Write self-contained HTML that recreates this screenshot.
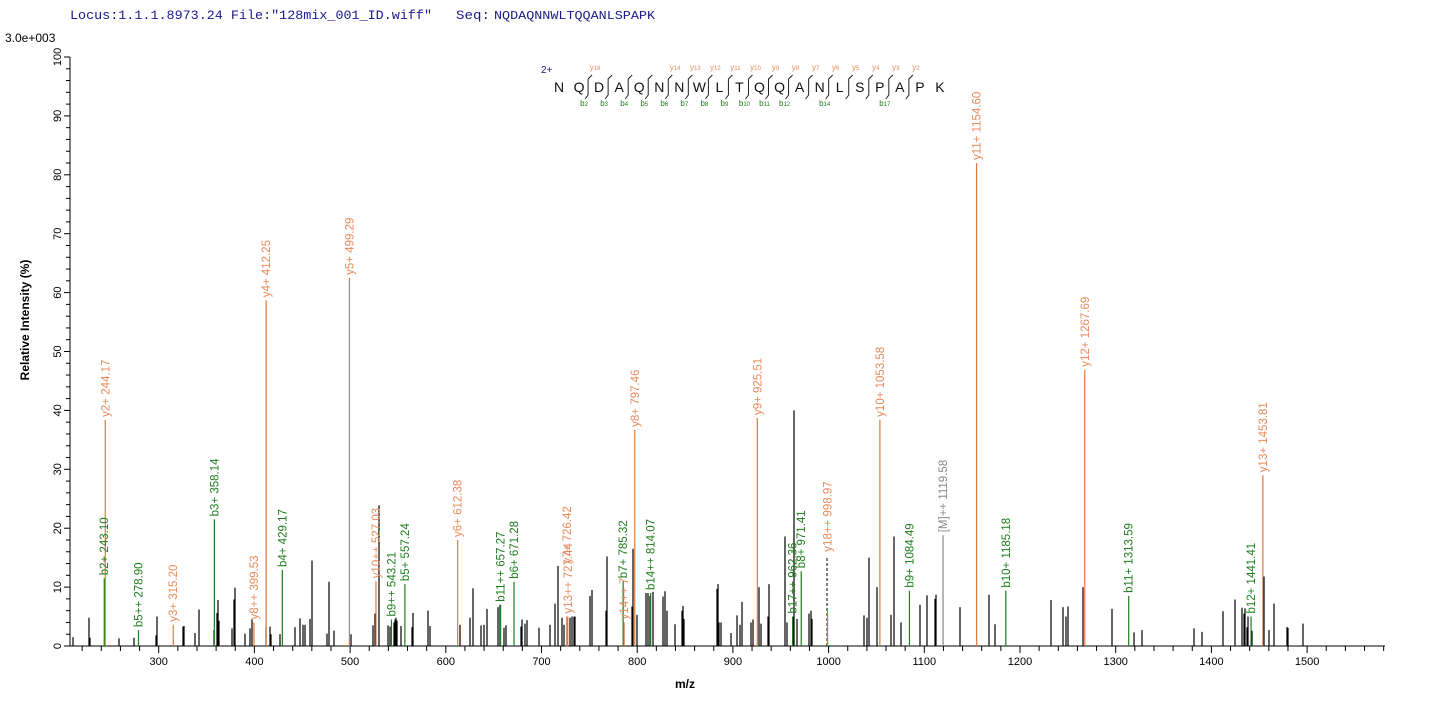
<!DOCTYPE html>
<html><head><meta charset="utf-8"><style>
html,body{margin:0;padding:0;background:#fff;}
svg{display:block;font-family:"Liberation Sans",Arial,sans-serif;}
</style></head><body>
<svg id="s" width="1436" height="705" xmlns="http://www.w3.org/2000/svg">
<text x="70" y="19" font-family="Liberation Mono,monospace" font-size="13" fill="#1a1a8c" textLength="362" lengthAdjust="spacingAndGlyphs">Locus:1.1.1.8973.24 File:"128mix_001_ID.wiff"</text>
<text x="456" y="19" font-family="Liberation Mono,monospace" font-size="13" fill="#1a1a8c" textLength="34" lengthAdjust="spacingAndGlyphs">Seq:</text>
<text x="494" y="19" font-family="Liberation Mono,monospace" font-size="12" fill="#1a1a8c" textLength="161" lengthAdjust="spacingAndGlyphs">NQDAQNNWLTQQANLSPAPK</text>
<text x="5" y="42" font-size="12" fill="#000">3.0e+003</text>
<text transform="translate(29,320) rotate(-90)" font-size="12" font-weight="bold" text-anchor="middle" fill="#000">Relative   Intensity (%)</text>
<text x="685" y="688" font-size="12" font-weight="bold" text-anchor="middle" fill="#000">m/z</text>
<g id="g"></g>
</svg>
<script>
var g=document.getElementById('g'),h='';
function X(mz){return 828.6+(mz-1000)*0.957;}
function Y(p){return 646-p*5.89;}
h+='<line x1="70" y1="57" x2="70" y2="646" stroke="#000"/>';
h+='<line x1="70" y1="646" x2="1385" y2="646" stroke="#000"/>';
for(var v=0;v<=100;v+=2){var y=Y(v);var maj=v%10==0;h+='<line x1="'+(maj?64:66)+'" y1="'+y+'" x2="70" y2="'+y+'" stroke="#000"/>';
if(maj)h+='<text transform="translate(61,'+y+') rotate(-90)" font-size="11" text-anchor="middle" fill="#000">'+v+'</text>';}
for(var m=220;m<=1580;m+=20){var x=X(m);var maj=m%100==0;h+='<line x1="'+x+'" y1="646" x2="'+x+'" y2="'+(maj?653:651)+'" stroke="#000"/>';
if(maj)h+='<text x="'+x+'" y="665" font-size="11" text-anchor="middle" fill="#000">'+m+'</text>';}
var bp=[[73,1.5],[89,4.8],[90,1.4],[119,1.3],[134,1.4],[156,1.8],[157,5],[183,3.3],[184,3.4],[195,2.2],[199,6.2],[214,2.7],[217,5.6],[218,7.8],[219,4.3],[232,3],[234,7.9],[235,9.9],[245,2.1],[250,3],[252,4.5],[266,3.3],[270,3.3],[271,2],[280,2],[295,3.2],[300,4.7],[303,3.6],[305,3.6],[310,4.6],[312,14.5],[327,2.1],[329,10.9],[334,2.6],[351,2],[373,3.5],[375,5.5],[379,23.9],[388,3.5],[390,3.3],[394,4],[395,4.5],[396,4.8],[397,4.3],[401,3.4],[412,3.2],[413,5.6],[428,6],[430,3.4],[460,3.6],[470,4.8],[473,9.8],[481,3.5],[484,3.6],[487,6.3],[498,6.6],[500,7],[504,3.1],[506,3.5],[521,3.3],[522,4.5],[525,3.8],[527,4.4],[539,3.1],[550,3.6],[555,7.2],[558,13.6],
[562,4.8],[564,3.6],[570,4.8],[572,5],[574,5],[575,5],[590,8.5],[592,9.5],[606,6],[607,15.2],[632,6.7],[633,16.5],[637,5.3],[646,9],[648,9],[650,8.5],[653,9.2],[663,8.4],[665,9.3],[667,6],[675,3.7],[682,6],[683,6.8],[684,4.6],[717,9.7],[718,10.5],[719,4],[721,4],[731,2.2],[737,5.2],[740,3.6],[742,7.5],[751,4],[753,4.5],[759,10],[761,3.8],[768,5],[769,10.5],[785,18.6],[787,4],[793,5],[794,40],[797,4.6],[809,5.5],[811,6],[812,4.6],[864,5.2],[867,4.8],[869,15],[877,10],[891,5.3],[894,18.6],[901,4],[920,7],[927,8.6],[935,8],[936,8.7],[960,6.6],[989,8.7],[995,3.7],[1051,7.8],[1063,6.6],[1066,5],[1068,6.7],[1083,10],[1112,6.3],[1134,2.3],[1142,2.7],[1194,3],[1202,2.4],[1223,5.9],[1235,7.9],[1242,6.5],[1244,5.5],[1245,6.4],[1247,3.2],[1248,5],[1252,2.6],[1264,11.8],[1269,2.7],[1274,7.2],[1287,3.2],[1288,3.1],[1303,3.8]];
bp.forEach(function(p){h+='<line x1="'+p[0]+'" y1="646" x2="'+p[0]+'" y2="'+Y(p[1])+'" stroke="#000" stroke-width="1.2"/>';});
h+='<line x1="827" y1="646" x2="827" y2="'+Y(15.2)+'" stroke="#000" stroke-dasharray="3,2"/>';
var O='#e0783c',OT='#e88a5c',G='#1e7d1e',GR='#888';
var lp=[[244.17,38.4,'y2+ 244.17',O],[243.10,11.5,'b2+ 243.10',G],[278.90,2.7,'b5++ 278.90',G],[315.20,3.6,'y3+ 315.20',O],[358.14,21.5,'b3+ 358.14',G],[399.53,4,'y8++ 399.53',O],[412.25,58.7,'y4+ 412.25',O],[429.17,12.9,'b4+ 429.17',G],[499.29,62.5,'y5+ 499.29',O],[527.03,11,'y10++ 527.03',O],[543.21,4.5,'b9++ 543.21',G],[557.24,10.5,'b5+ 557.24',G],[612.38,18,'y6+ 612.38',O],[657.27,7,'b11++ 657.27',G],[671.28,10.9,'b6+ 671.28',G],[727.44,5,'y13++ 727.44',O],[726.42,5,'y7+ 726.42',O,13.5],[785.32,11,'b7+ 785.32',G],[786.3,4,'y14++ 7',O],[797.46,36.7,'y8+ 797.46',O],[814.07,9,'b14++ 814.07',G],[925.51,38.7,'y9+ 925.51',O],[962.36,5,'b17++ 962.36',G],[971.41,12.7,'b8+ 971.41',G],[998.97,6,'y18++ 998.97',O,15.5],[1053.58,38.4,'y10+ 1053.58',O],[1084.49,9.4,'b9+ 1084.49',G],[1119.58,18.8,'[M]++ 1119.58',GR],[1154.60,82,'y11+ 1154.60',O],[1185.18,9.4,'b10+ 1185.18',G],[1267.69,46.9,'y12+ 1267.69',O],[1313.59,8.5,'b11+ 1313.59',G],[1441.41,5,'b12+ 1441.41',G],[1453.81,29,'y13+ 1453.81',O]];
lp.forEach(function(p){var x=X(p[0]);var c=p[3];h+='<line x1="'+x+'" y1="646" x2="'+x+'" y2="'+Y(p[1])+'" stroke="'+c+'" stroke-width="1.2"/>';
var ly=Y(p[4]||p[1])-3;var tc=c==O?OT:c;
h+='<text transform="translate('+(x+4)+','+ly+') rotate(-90)" font-size="11.5" fill="'+tc+'">'+p[2]+'</text>';});
var seq='NQDAQNNWLTQQANLSPAPK';var x0=559,dx=20.05;
h+='<text x="541" y="73" font-size="10" fill="#1a1a8c">2+</text>';
for(var i=0;i<20;i++)h+='<text x="'+(x0+i*dx)+'" y="92" font-size="14" text-anchor="middle" fill="#111">'+seq[i]+'</text>';
var br={2:[2,18],3:[3,0],4:[4,0],5:[5,0],6:[6,14],7:[7,13],8:[8,12],9:[9,11],10:[10,10],11:[11,9],12:[12,8],13:[0,7],14:[14,6],15:[0,5],16:[0,4],17:[17,3],18:[0,2]};
for(var k in br){var bx=x0+(k-0.5)*dx;var b=br[k];
h+='<path d="M'+(bx-4)+' 99 L'+(bx-1)+' 95 L'+(bx-1)+' 79 L'+(bx+3)+' 75" fill="none" stroke="#222" stroke-width="1"/>';
if(b[1])h+='<text x="'+(bx+6)+'" y="70" font-size="8" text-anchor="middle" fill="'+OT+'">y<tspan font-size="6">'+b[1]+'</tspan></text>';
if(b[0])h+='<text x="'+(bx-5)+'" y="106" font-size="8" text-anchor="middle" fill="'+G+'">b<tspan font-size="6">'+b[0]+'</tspan></text>';}
g.innerHTML=h;
</script>
</body></html>
